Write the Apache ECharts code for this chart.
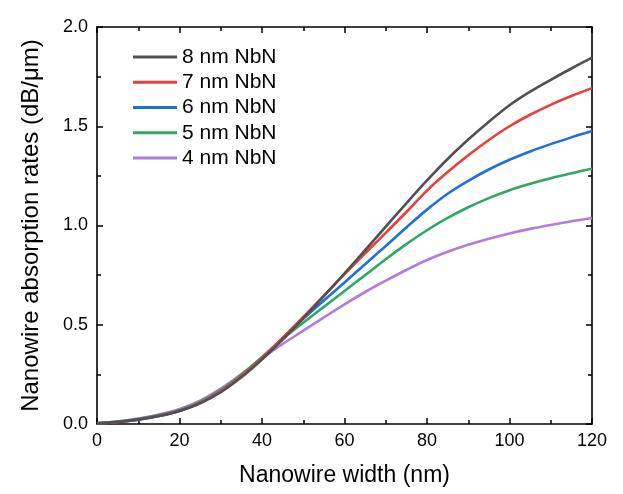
<!DOCTYPE html>
<html>
<head>
<meta charset="utf-8">
<script src="https://cdn.jsdelivr.net/npm/echarts@6/dist/echarts.min.js"></script>
<style>html,body{margin:0;padding:0;background:#fff}#c{width:623px;height:494px}</style>
</head>
<body>
<div id="c"></div>
<script>
var widths = [0,5,10,15,20,25,30,35,40,45,50,55,60,65,70,75,80,85,90,95,100,105,110,115,120];
var nb8 = [0.003,0.010,0.022,0.040,0.066,0.104,0.160,0.235,0.325,0.425,0.532,0.644,0.759,0.876,0.994,1.112,1.227,1.335,1.433,1.523,1.606,1.674,1.734,1.791,1.846];
var nb7 = [0.003,0.010,0.023,0.042,0.067,0.107,0.165,0.242,0.332,0.434,0.539,0.647,0.755,0.860,0.963,1.068,1.176,1.269,1.354,1.431,1.500,1.558,1.608,1.652,1.692];
var nb6 = [0.003,0.010,0.022,0.040,0.065,0.105,0.165,0.242,0.333,0.433,0.530,0.622,0.713,0.805,0.897,0.990,1.080,1.160,1.225,1.282,1.331,1.373,1.410,1.444,1.476];
var nb5 = [0.004,0.012,0.025,0.045,0.070,0.112,0.172,0.250,0.338,0.428,0.510,0.590,0.670,0.750,0.830,0.906,0.976,1.038,1.092,1.138,1.178,1.210,1.238,1.263,1.286];
var nb4 = [0.004,0.013,0.027,0.048,0.076,0.118,0.178,0.250,0.330,0.403,0.470,0.537,0.603,0.665,0.722,0.776,0.826,0.868,0.903,0.933,0.960,0.983,1.003,1.021,1.038];
var names = ['8 nm NbN','7 nm NbN','6 nm NbN','5 nm NbN','4 nm NbN'];
var colors = ['#505050','#ec3c3c','#1f6fdc','#2fa866','#b07ce0'];
var xTicks = [0,20,40,60,80,100,120];
var yTicks = [0.0,0.5,1.0,1.5,2.0];

var font = 'Liberation Sans, Arial, sans-serif';
function pair(xs, ys){ return xs.map(function(x,i){ return [x, ys[i]]; }); }
var allData = [nb8, nb7, nb6, nb5, nb4];

var axisCommon = {
  axisLine: {show: true, onZero: false, lineStyle: {color: '#000', width: 1.6}},
  axisTick: {show: true, inside: true, length: 6, lineStyle: {color: '#000', width: 1.5}},
  minorTick: {show: true, splitNumber: 2, length: 4, lineStyle: {color: '#000', width: 1.5}},
  splitLine: {show: false}
};
function ax(extra){ return Object.assign({}, JSON.parse(JSON.stringify(axisCommon)), extra); }

var chart = echarts.init(document.getElementById('c'), null, {renderer: 'canvas'});
chart.setOption({
  animation: false,
  backgroundColor: '#fff',
  grid: {left: 97, right: 31, top: 27, bottom: 70},
  legend: {
    orient: 'vertical', left: 133, top: 46.5, padding: 0,
    itemWidth: 44, itemHeight: 3, itemGap: 4.25,
    icon: 'rect',
    data: names,
    textStyle: {fontFamily: font, fontSize: 21, color: '#000', lineHeight: 21}
  },
  xAxis: [
    ax({type: 'value', position: 'bottom', min: xTicks[0], max: xTicks[xTicks.length-1], interval: 20,
      name: 'Nanowire width (nm)', nameLocation: 'middle', nameGap: 40,
      nameTextStyle: {fontFamily: font, fontSize: 23, color: '#000'},
      axisLabel: {fontFamily: font, fontSize: 18, color: '#000', margin: 8}}),
    ax({type: 'value', position: 'top', min: xTicks[0], max: xTicks[xTicks.length-1], interval: 20,
      axisLabel: {show: false}})
  ],
  yAxis: [
    ax({type: 'value', position: 'left', min: yTicks[0], max: yTicks[yTicks.length-1], interval: 0.5,
      name: 'Nanowire absorption rates (dB/\u03bcm)', nameLocation: 'middle', nameGap: 54,
      nameTextStyle: {fontFamily: font, fontSize: 24, color: '#000'},
      axisLabel: {fontFamily: font, fontSize: 18, color: '#000', margin: 9,
        formatter: function(v){ return v.toFixed(1); }}}),
    ax({type: 'value', position: 'right', min: yTicks[0], max: yTicks[yTicks.length-1], interval: 0.5,
      axisLabel: {show: false}})
  ],
  series: allData.map(function(d, i){
    return {
      name: names[i], type: 'line', data: pair(widths, d),
      xAxisIndex: 0, yAxisIndex: 0,
      smooth: 0.35, showSymbol: false, symbol: 'none',
      lineStyle: {color: colors[i], width: 2.6},
      itemStyle: {color: colors[i]},
      z: 10 - i
    };
  })
});
</script>
</body>
</html>
